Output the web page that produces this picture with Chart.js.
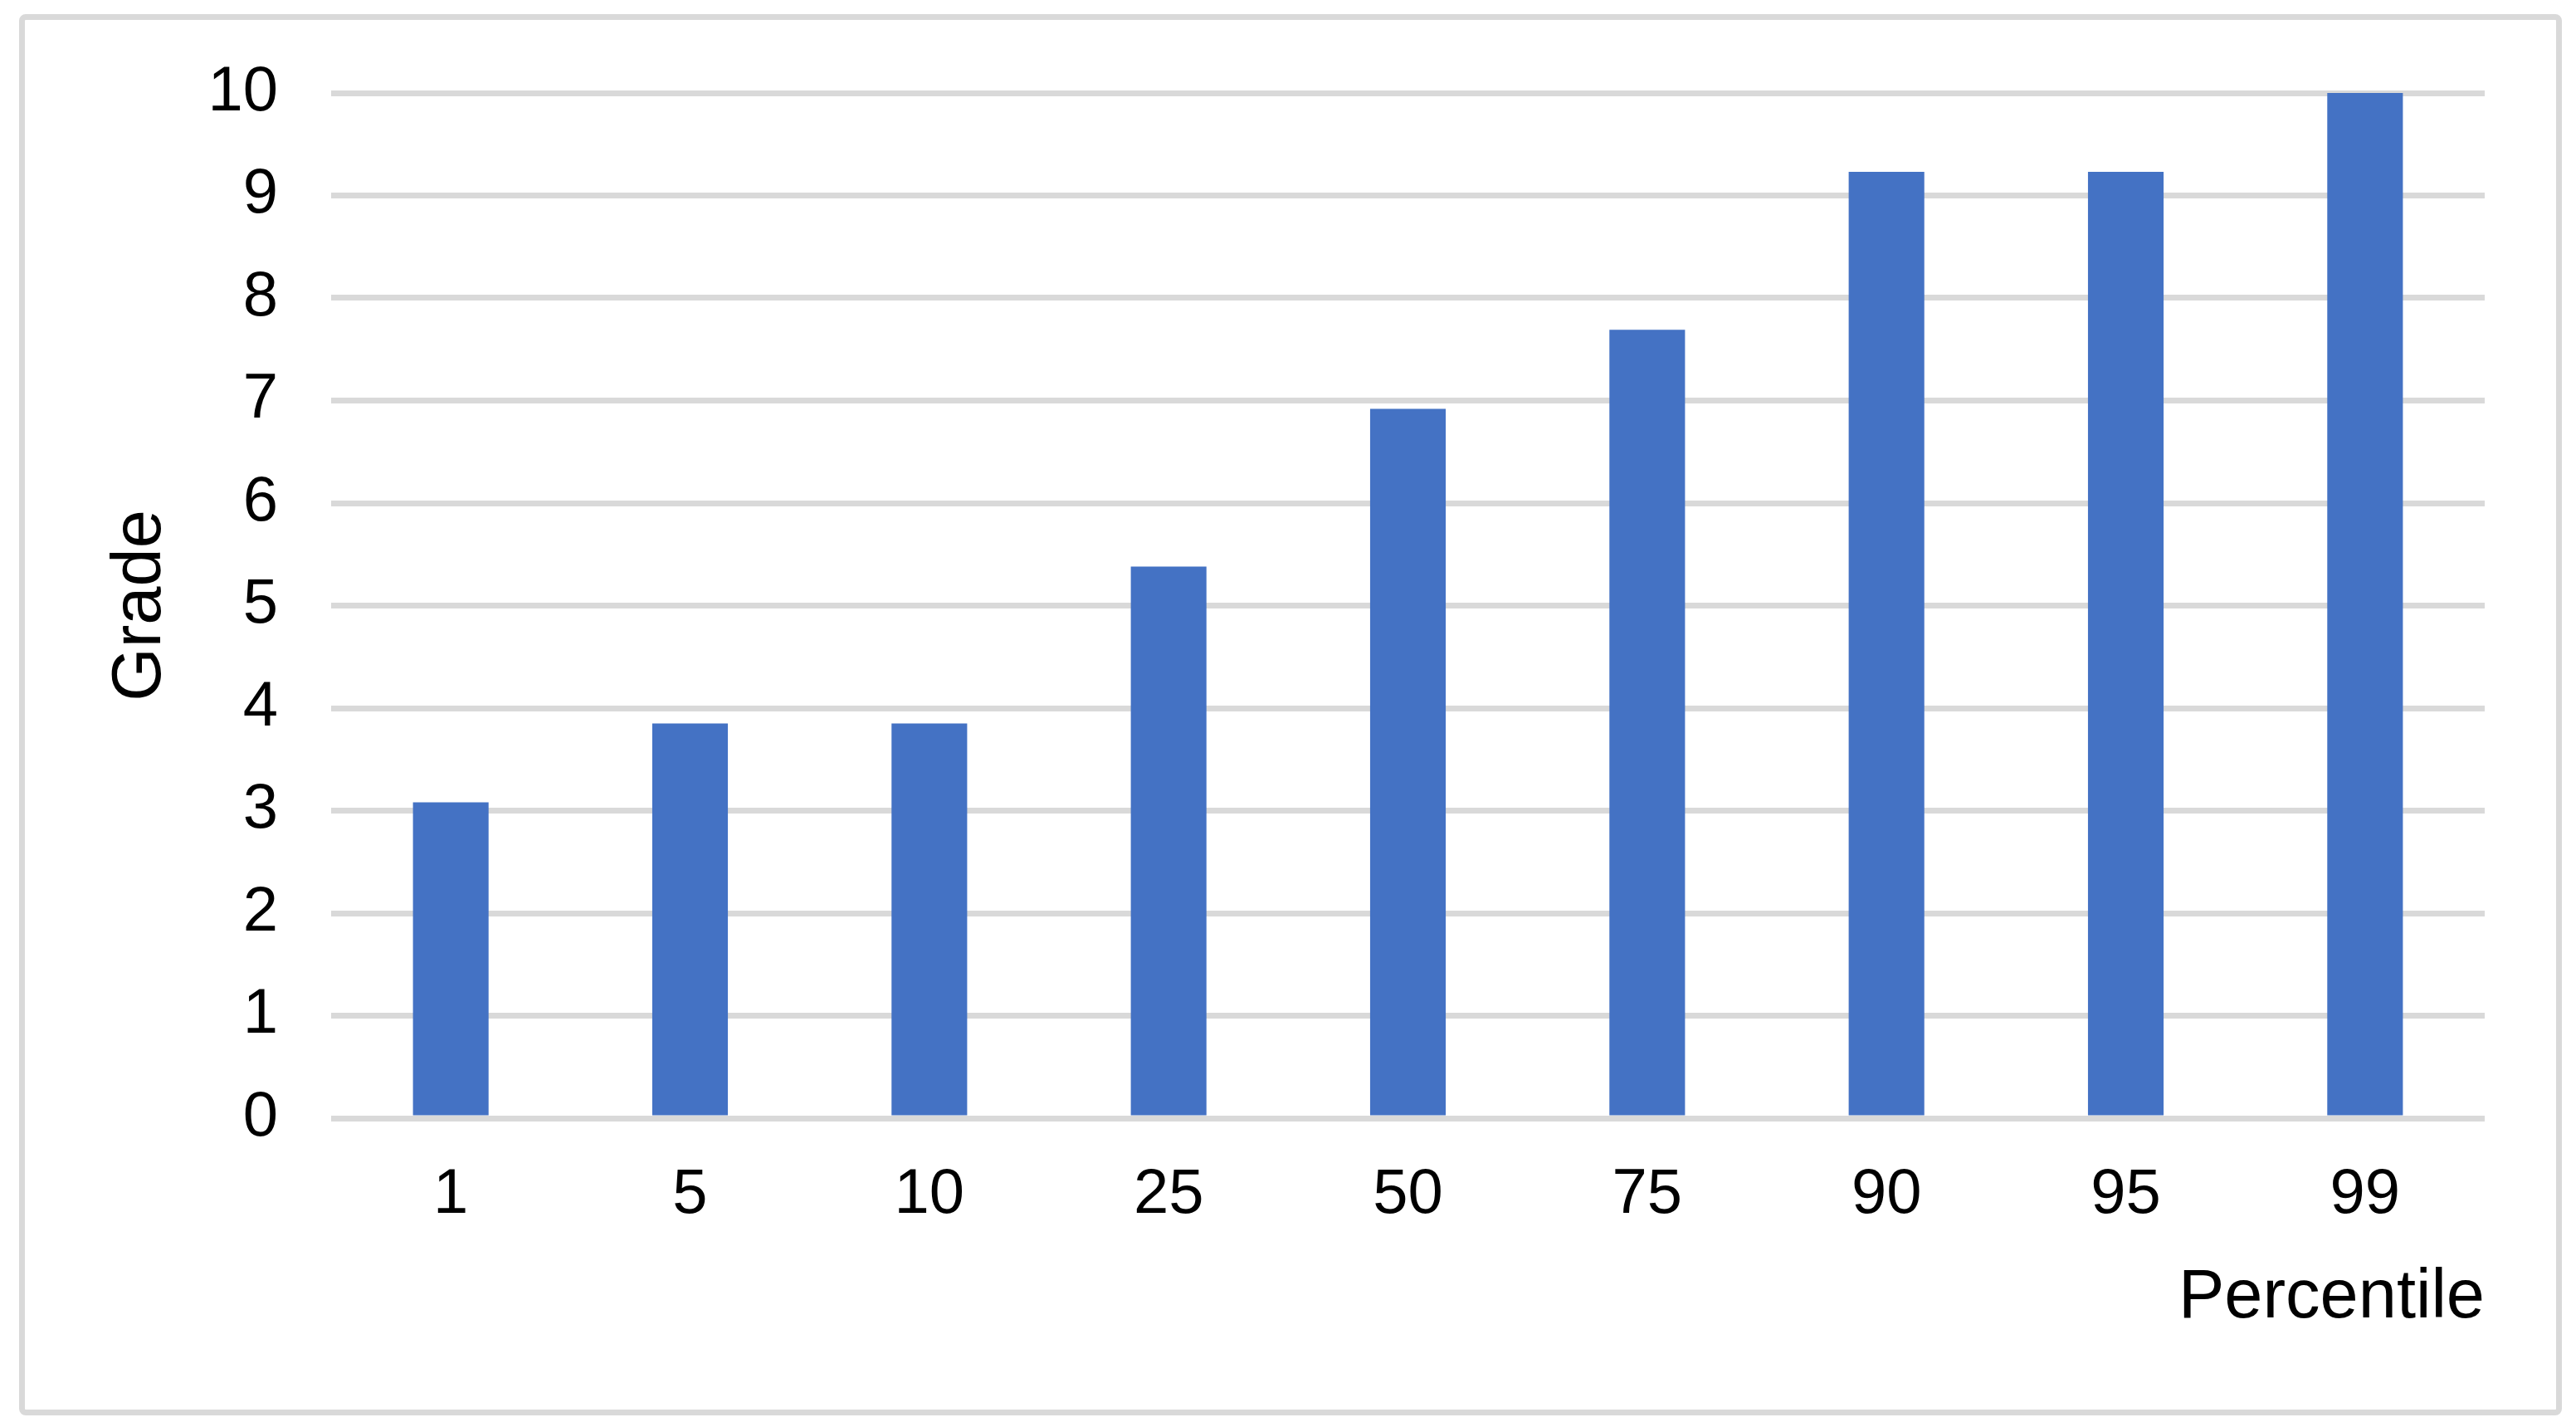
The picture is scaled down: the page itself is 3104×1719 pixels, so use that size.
<!DOCTYPE html>
<html>
<head>
<meta charset="utf-8">
<script src="https://cdn.jsdelivr.net/npm/chart.js@4.4.1/dist/chart.umd.min.js"></script>
<style>
  html, body { margin: 0; padding: 0; background: #ffffff; }
  #wrap { position: relative; width: 3104px; height: 1719px; }
  #frame { position: absolute; left: 23px; top: 17px; width: 3064px; height: 1688px;
           box-sizing: border-box; border: 7px solid #d9d9d9; border-radius: 8px; }
  canvas { position: absolute; left: 0; top: 0; }
</style>
</head>
<body>
<div id="wrap">
  <div id="frame"></div>
  <canvas id="c" width="3104" height="1719"></canvas>
</div>
<script>
const categories = ['1', '5', '10', '25', '50', '75', '90', '95', '99'];
const grades = [3.08, 3.85, 3.85, 5.38, 6.92, 7.69, 9.23, 9.23, 10];
const yTicks = [0, 1, 2, 3, 4, 5, 6, 7, 8, 9, 10];
const xTitle = 'Percentile';
const yTitle = 'Grade';

const FONT = '"Liberation Sans", Arial, sans-serif';

new Chart(document.getElementById('c'), {
  type: 'bar',
  data: {
    labels: categories,
    datasets: [{
      data: grades,
      backgroundColor: '#4472C4',
      borderWidth: 0,
      barPercentage: 0.316,
      categoryPercentage: 1.0
    }]
  },
  options: {
    responsive: false,
    animation: false,
    devicePixelRatio: 1,
    layout: { padding: { left: 100, top: 112, right: 110, bottom: 105 } },
    plugins: { legend: { display: false }, tooltip: { enabled: false } },
    scales: {
      x: {
        grid: { display: false, drawTicks: false },
        border: { display: false },
        ticks: {
          color: '#000000',
          font: { family: FONT, size: 76, lineHeight: 1.2 },
          padding: 47,
          maxRotation: 0,
          autoSkip: false
        },
        title: {
          display: true,
          text: xTitle,
          align: 'end',
          color: '#000000',
          font: { family: FONT, size: 83, lineHeight: 1.2 },
          padding: { top: 0, bottom: 0 }
        },
        afterFit: (s) => { s.height = 267; }
      },
      y: {
        min: 0,
        max: 10,
        afterBuildTicks: (s) => { s.ticks = yTicks.map(v => ({ value: v })); },
        grid: { color: '#d9d9d9', lineWidth: 7, drawTicks: false },
        border: { display: false },
        ticks: {
          color: '#000000',
          font: { family: FONT, size: 76, lineHeight: 1.2 },
          padding: 64,
          callback: (v) => String(v)
        },
        title: {
          display: true,
          text: yTitle,
          color: '#000000',
          font: { family: FONT, size: 83, lineHeight: 1.2 },
          padding: { top: 20, bottom: 0 }
        },
        afterFit: (s) => { s.width = 299; }
      }
    }
  }
});
</script>
</body>
</html>
